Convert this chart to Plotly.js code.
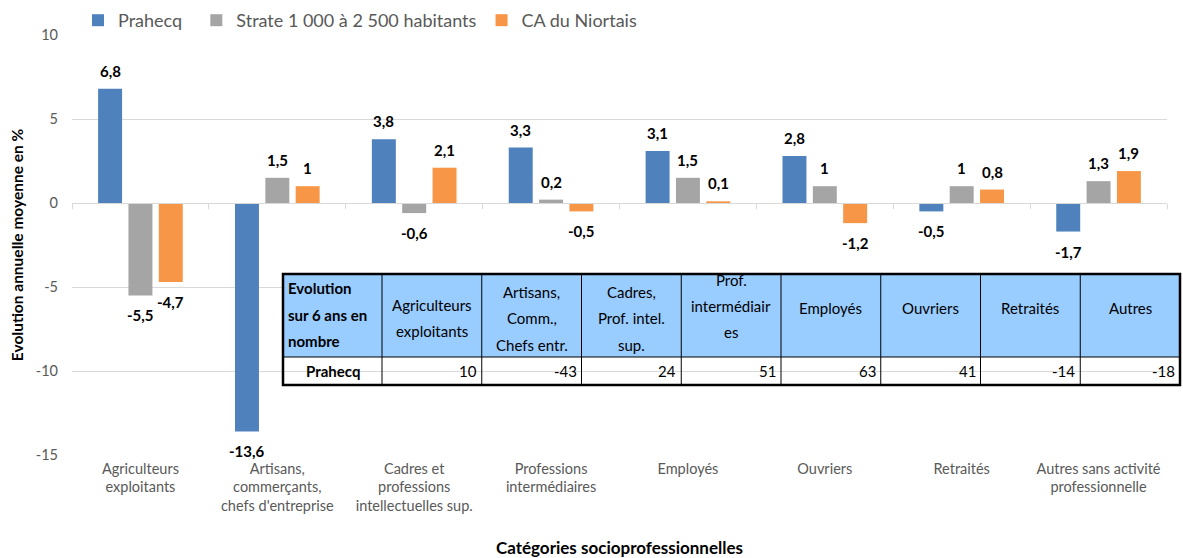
<!DOCTYPE html>
<html>
<head>
<meta charset="utf-8">
<script src="https://cdn.plot.ly/plotly-3.0.1.min.js"></script>
<style>html,body{margin:0;padding:0;background:#fff}#chart{width:1183px;height:558px}</style>
</head>
<body>
<div id="chart"></div>
<script>
// ---------- data ----------
const categories = [
  'Agriculteurs<br>exploitants',
  'Artisans,<br>commerçants,<br>chefs d\'entreprise',
  'Cadres et<br>professions<br>intellectuelles sup.',
  'Professions<br>intermédiaires',
  'Employés',
  'Ouvriers',
  'Retraités',
  'Autres sans activité<br>professionnelle'
];
const seriesNames = ['Prahecq', 'Strate 1 000 à 2 500 habitants', 'CA du Niortais'];
const prahecq    = [6.8, -13.6, 3.8, 3.3, 3.1, 2.8, -0.5, -1.7];
const strate     = [-5.5, 1.5, -0.6, 0.2, 1.5, 1, 1, 1.3];
const caNiortais = [-4.7, 1, 2.1, -0.5, 0.1, -1.2, 0.8, 1.9];
const yTickVals  = [10, 5, 0, -5, -10, -15];

const tableCorner  = ['Evolution', 'sur 6 ans en', 'nombre'];
const tableHeaders = [
  ['Agriculteurs', 'exploitants'],
  ['Artisans,', 'Comm.,', 'Chefs entr.'],
  ['Cadres,', 'Prof. intel.', 'sup.'],
  ['Prof.', 'intermédiair', 'es'],
  ['Employés'],
  ['Ouvriers'],
  ['Retraités'],
  ['Autres']
];
const tableRowLabel = 'Prahecq';
const tableValues   = [10, -43, 24, 51, 63, 41, -14, -18];

// ---------- styles / geometry ----------
const colors = ['#4F81BD', '#A5A5A5', '#F79646'];
const legendPad = ['\u00a0\u00a0', '', ''];   // extra spacing after legend entries
const FONT = 'Lato, "Open Sans", sans-serif';
const W = 1183, H = 558;
const M = {l: 72, r: 16, t: 35, b: 103, autoexpand: false};
const PW = W - M.l - M.r, PH = H - M.t - M.b;
const px2x = p => (p - M.l) / PW;        // pixel -> paper x
const py2y = p => (H - M.b - p) / PH;    // pixel -> paper y
const BARGAP = 0.335, GROUPGAP = 0.21;
const slot = (1 - BARGAP) / 3;

const fmt = v => String(v).replace('.', ',');
const allSeries = [prahecq, strate, caNiortais];

const traces = allSeries.map((vals, k) => ({
  type: 'bar',
  name: seriesNames[k] + legendPad[k],
  x: categories,
  y: vals,
  marker: {color: colors[k]},
  hoverinfo: 'x+y'
}));
// helper axis carrying the zero line with boundary ticks
traces.push({type: 'scatter', x: [], y: [], xaxis: 'x2', showlegend: false, hoverinfo: 'skip'});

const annotations = [];
// data labels
allSeries.forEach((vals, k) => {
  vals.forEach((v, i) => {
    annotations.push({
      xref: 'x', yref: 'y',
      x: i + (k - 1) * slot, y: v,
      text: fmt(v), showarrow: false,
      yanchor: 'middle', xanchor: 'center',
      yshift: v >= 0 ? 18 : -20,
      font: {family: FONT, size: 15, color: '#000', weight: 700}
    });
  });
});

// ---------- table ----------
const T = {left: 283, top: 274, headBottom: 357, bottom: 385, firstW: 99, colW: 99.75};
const colEdges = [T.left, T.left + T.firstW];
for (let i = 0; i < tableHeaders.length; i++) colEdges.push(T.left + T.firstW + (i + 1) * T.colW);
const shapes = [];
shapes.push({type: 'rect', xref: 'paper', yref: 'paper', layer: 'above',
  x0: px2x(T.left), x1: px2x(colEdges[colEdges.length - 1]), y0: py2y(T.headBottom), y1: py2y(T.top),
  fillcolor: '#99CCFF', line: {width: 0}});
for (let i = 1; i < colEdges.length - 1; i++) {
  shapes.push({type: 'line', xref: 'paper', yref: 'paper', layer: 'above',
    x0: px2x(colEdges[i]), x1: px2x(colEdges[i]), y0: py2y(T.bottom), y1: py2y(T.top),
    line: {color: '#000', width: 1}});
}
shapes.push({type: 'line', xref: 'paper', yref: 'paper', layer: 'above',
  x0: px2x(T.left), x1: px2x(colEdges[colEdges.length - 1]), y0: py2y(T.headBottom), y1: py2y(T.headBottom),
  line: {color: '#000', width: 1}});
shapes.push({type: 'rect', xref: 'paper', yref: 'paper', layer: 'above',
  x0: px2x(T.left), x1: px2x(colEdges[colEdges.length - 1]), y0: py2y(T.bottom), y1: py2y(T.top),
  fillcolor: 'rgba(0,0,0,0)', line: {color: '#000', width: 2.5}});

const LINE = 26.5;
const tFont = {family: FONT, size: 15, color: '#000'};
tableCorner.forEach((t, j) => {
  annotations.push({xref: 'paper', yref: 'paper', x: px2x(T.left + 3), y: py2y(289 + j * LINE - 1),
    xanchor: 'left', yanchor: 'middle', text: t, showarrow: false,
    font: Object.assign({}, tFont, {weight: 700})});
});
const headerShift = [0, 0, 0, -12, -10, -10, -10, -10];
tableHeaders.forEach((lines, c) => {
  const cx = (colEdges[c + 1] + colEdges[c + 2]) / 2;
  const yc = 318 + headerShift[c];
  lines.forEach((t, j) => {
    annotations.push({xref: 'paper', yref: 'paper', x: px2x(cx), y: py2y(yc + (j - (lines.length - 1) / 2) * LINE),
      xanchor: 'center', yanchor: 'middle', text: t, showarrow: false, font: tFont});
  });
});
annotations.push({xref: 'paper', yref: 'paper', x: px2x((colEdges[0] + colEdges[1]) / 2), y: py2y(371),
  xanchor: 'center', yanchor: 'middle', text: tableRowLabel, showarrow: false,
  font: Object.assign({}, tFont, {weight: 700})});
tableValues.forEach((v, c) => {
  annotations.push({xref: 'paper', yref: 'paper', x: px2x(colEdges[c + 2] - 3), y: py2y(371),
    xanchor: 'right', yanchor: 'middle', text: fmt(v), showarrow: false, font: tFont});
});

const layout = {
  width: W, height: H,
  margin: M,
  paper_bgcolor: '#fff', plot_bgcolor: '#fff',
  font: {family: FONT, size: 14, color: '#595959'},
  barmode: 'group', bargap: BARGAP, bargroupgap: GROUPGAP,
  separators: ', ',
  showlegend: true,
  legend: {orientation: 'h', x: px2x(78), y: py2y(2), xanchor: 'left', yanchor: 'top',
    font: {family: FONT, size: 18, color: '#595959'}, traceorder: 'normal'},
  xaxis: {
    type: 'category', showgrid: false, zeroline: false, showline: false, ticks: '',
    ticklabelstandoff: 3,
    tickfont: {family: FONT, size: 14.5, color: '#595959'},
    title: {text: 'Catégories socioprofessionnelles', font: {family: FONT, size: 17, color: '#000', weight: 700}, standoff: 37}
  },
  xaxis2: {
    type: 'linear', overlaying: 'x', anchor: 'free', position: 0.6,
    range: [-0.5, categories.length - 0.5],
    tickvals: categories.map((_, i) => i - 0.5).concat([categories.length - 0.5]),
    ticks: 'outside', ticklen: 5, tickcolor: '#D9D9D9', showticklabels: false,
    showline: true, linecolor: '#D9D9D9', linewidth: 1, showgrid: false, zeroline: false
  },
  yaxis: {
    range: [-15, 10], tickvals: yTickVals, ticktext: yTickVals.map(String),
    showgrid: true, gridcolor: '#D9D9D9', gridwidth: 1, zeroline: false, showline: false,
    ticks: '', ticklabelstandoff: 13,
    tickfont: {family: FONT, size: 14.5, color: '#595959'},
    title: {text: 'Evolution annuelle moyenne en %', font: {family: FONT, size: 15.5, color: '#000', weight: 700}, standoff: 8}
  },
  annotations: annotations,
  shapes: shapes
};

Plotly.newPlot('chart', traces, layout, {displayModeBar: false, staticPlot: true});
</script>
</body>
</html>
